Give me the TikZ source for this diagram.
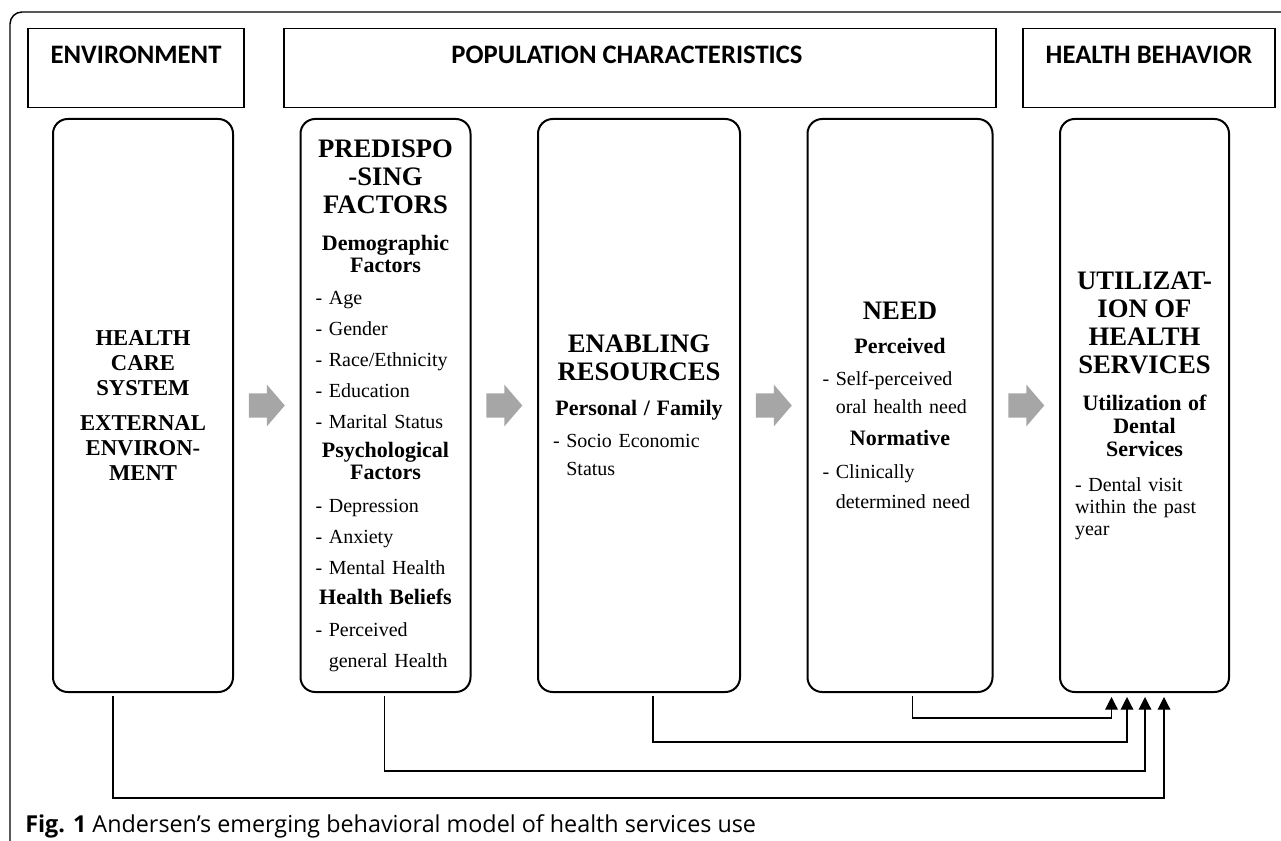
\documentclass[tikz,border=0pt]{standalone}
\usepackage{fontspec}
\setmainfont{Liberation Serif}
\newfontfamily\hdrfont{Carlito}
\newfontfamily\capfont{Open Sans}
\usetikzlibrary{positioning,calc,arrows.meta}
\definecolor{arrowgray}{HTML}{A6A6A6}
\newdimen\pxu \pxu=0.75pt
\newcommand{\boxttl}[1]{{\fontsize{20}{21}\selectfont\bfseries #1}}
\newcommand{\subhd}[1]{{\fontsize{16.5}{18}\selectfont\bfseries #1}}
\newcommand{\itm}[1]{#1\hfill\mbox{}}

\begin{document}
\begin{tikzpicture}[x=0.75pt, y=-0.75pt,
  hdr/.style = {draw, line width=1.1pt, anchor=north, inner sep=0, text height=26.25pt, text depth=33pt, font=\hdrfont\fontsize{20}{24}\selectfont\bfseries},
  bigbox/.style = {draw, line width=1.5pt, rounded corners=11pt, minimum height=573\pxu, align=center, inner sep=0, font=\fontsize{15}{21}\selectfont},
  link/.style = {line width=0.9pt, -{Triangle[width=9.5pt,length=9.5pt]}},
  node distance=65.5\pxu]

\useasboundingbox (0,0) rectangle (1281,841);
\draw[line width=1.1pt, rounded corners=9pt] (10,841) -- (10,12) -- (1281,12);

% headers
\node[hdr, minimum width=216\pxu] (env) at (136,28) {ENVIRONMENT};
\node[hdr, minimum width=712\pxu] (pop) at (640,28) {POPULATION CHARACTERISTICS\hspace*{26\pxu}};
\node[hdr, minimum width=252\pxu] (hb) at (1149,28) {HEALTH BEHAVIOR};

% boxes
\node[bigbox, minimum width=180\pxu, text width=150\pxu, font=\fontsize{17}{18.75}\selectfont\bfseries] (hcs) at (143,405.5)
  {HEALTH\\CARE\\SYSTEM\\[7.5pt]EXTERNAL\\ENVIRON-\\MENT};
\node[bigbox, minimum width=170\pxu, text width=140\pxu, right=of hcs] (pre)
  {\boxttl{PREDISPO}\\\boxttl{-SING}\\\boxttl{FACTORS}\\[6.75pt]
   \subhd{Demographic}\\[-4.5pt]\subhd{Factors}\\[3pt]
   \itm{- Age}\\[2.25pt]\itm{- Gender}\\[2.25pt]\itm{- Race/Ethnicity}\\[2.25pt]
   \itm{- Education}\\[2.25pt]\itm{- Marital Status}\\[1pt]
   \subhd{Psychological}\\[-4.5pt]\subhd{Factors}\\[3.5pt]
   \itm{- Depression}\\[2.25pt]\itm{- Anxiety}\\[2.25pt]\itm{- Mental Health}\\[1.5pt]
   \subhd{Health Beliefs}\\[3pt]
   \itm{- Perceived}\\[2.25pt]\itm{\phantom{-\ }general Health}};
\node[bigbox, minimum width=202\pxu, text width=172\pxu, right=of pre] (enb)
  {\boxttl{ENABLING}\\\boxttl{RESOURCES}\\[5.25pt]
   \subhd{Personal / Family}\\[3pt]
   \itm{- Socio Economic}\\\itm{\phantom{-\ }Status}};
\node[bigbox, minimum width=185\pxu, text width=155\pxu, right=of enb] (need)
  {\boxttl{NEED}\\[4.5pt]\subhd{Perceived}\\[3pt]
   \itm{- Self-perceived}\\\itm{\phantom{-\ }oral health need}\\[3pt]
   \subhd{Normative}\\[3.75pt]
   \itm{- Clinically}\\[1.5pt]\itm{\phantom{-\ }determined need}};
\node[bigbox, minimum width=169\pxu, text width=139\pxu, right=of need] (use)
  {\boxttl{UTILIZAT-}\\\boxttl{ION OF}\\\boxttl{HEALTH}\\\boxttl{SERVICES}\\[6.75pt]
   \subhd{Utilization of}\\[-3.75pt]\subhd{Dental}\\[-3.75pt]\subhd{Services}\\[5.25pt]
   \itm{- Dental visit}\\[-4.5pt]\itm{within the past}\\[-4.5pt]\itm{year}};

% block arrows
\foreach \a/\b in {hcs/pre, pre/enb, enb/need, need/use}
  \fill[arrowgray] ($(\a.east)!0.5!(\b.west)$) ++(-18,-12) -- ++(18,0) -- ++(0,-9) -- ++(18,21) -- ++(-18,21) -- ++(0,-9) -- ++(-18,0) -- cycle;

% links
\draw[link] ($(need.south)+(12.5,3)$) |- ($(use.south)+(-33,25)$) -- ($(use.south)+(-33,4)$);
\draw[link] ($(enb.south)+(14,3)$) |- ($(use.south)+(-17.5,49)$) -- ($(use.south)+(-17.5,4)$);
\draw[link] ($(pre.south)+(-1,3)$) |- ($(use.south)+(0.5,78)$) -- ($(use.south)+(0.5,4)$);
\draw[link] ($(hcs.south)+(-30,3)$) |- ($(use.south)+(19.5,105)$) -- ($(use.south)+(19.5,4)$);

\node[anchor=base west, inner sep=0, font=\capfont\fontsize{17.5}{18}\selectfont] (cap) at (25,832)
  {\textbf{Fig. 1} Andersen’s emerging behavioral model of health services use};

\end{tikzpicture}
\end{document}
